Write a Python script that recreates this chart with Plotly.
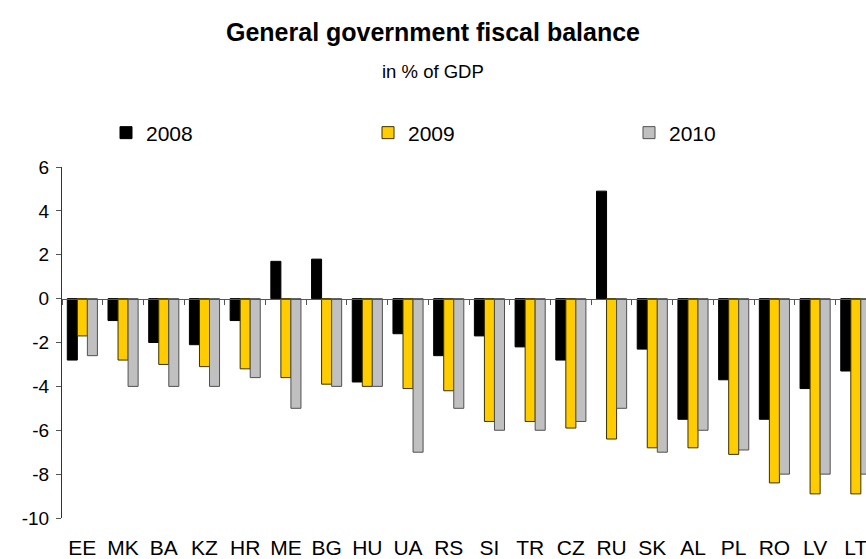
import plotly.graph_objects as go

countries = ["EE", "MK", "BA", "KZ", "HR", "ME", "BG", "HU", "UA", "RS",
             "SI", "TR", "CZ", "RU", "SK", "AL", "PL", "RO", "LV", "LT"]
years = ["2008", "2009", "2010"]
balance_2008 = [-2.8, -1.0, -2.0, -2.1, -1.0, 1.7, 1.8, -3.8, -1.6, -2.6,
                -1.7, -2.2, -2.8, 4.9, -2.3, -5.5, -3.7, -5.5, -4.1, -3.3]
balance_2009 = [-1.7, -2.8, -3.0, -3.1, -3.2, -3.6, -3.9, -4.0, -4.1, -4.2,
                -5.6, -5.6, -5.9, -6.4, -6.8, -6.8, -7.1, -8.4, -8.9, -8.9]
balance_2010 = [-2.6, -4.0, -4.0, -4.0, -3.6, -5.0, -4.0, -4.0, -7.0, -5.0,
                -6.0, -6.0, -5.6, -5.0, -7.0, -6.0, -6.9, -8.0, -8.0, -8.0]
y_ticks = [-10, -8, -6, -4, -2, 0, 2, 4, 6]

series = [
    (years[0], balance_2008, "#000000", "#000000"),
    (years[1], balance_2009, "#FFCC00", "#3a3000"),
    (years[2], balance_2010, "#C0C0C0", "#505050"),
]
# left edge (px) of each legend entry
legend_left = [106, 368, 629]

FONT_REG = "Liberation Sans, Arial, sans-serif"

W, H = 866, 559
M_L, M_R, M_T, M_B = 62, 0, 167, 41
plot_h = H - M_T - M_B

fig = go.Figure()
legend_layout = {}
for i, (name, values, fill, edge) in enumerate(series):
    key = "legend" if i == 0 else f"legend{i + 1}"
    fig.add_trace(go.Bar(
        x=countries, y=values, name=name, legend=key,
        marker=dict(color=fill, line=dict(color=edge, width=1)),
    ))
    legend_layout[key] = dict(
        orientation="h",
        x=legend_left[i] / W, xref="container", xanchor="left",
        y=1 - 133 / H, yref="container", yanchor="middle",
        itemwidth=30,
        font=dict(family=FONT_REG, size=21, color="black"),
        bgcolor="rgba(0,0,0,0)",
    )

y_min, y_max = y_ticks[0], y_ticks[-1]
zero_pos = (0 - y_min) / (y_max - y_min)

fig.update_layout(
    width=W, height=H,
    margin=dict(l=M_L, r=M_R, t=M_T, b=M_B, autoexpand=False),
    paper_bgcolor="white", plot_bgcolor="white",
    barmode="group", bargap=0.26, bargroupgap=0,
    showlegend=True,
    title=dict(
        text="<b>General government fiscal balance</b>",
        font=dict(family=FONT_REG, size=25, color="black"),
        x=0.5, xref="container", xanchor="center",
        y=1 - 32 / H, yref="container", yanchor="middle",
    ),
    xaxis=dict(
        type="category",
        categoryorder="array", categoryarray=countries,
        range=[-0.5, len(countries) - 0.75],
        anchor="free", position=zero_pos,
        showline=True, linecolor="#555555", linewidth=1,
        tickson="boundaries", ticks="outside", ticklen=5, tickcolor="#555555",
        ticklabelstandoff=230,
        tickfont=dict(family=FONT_REG, size=21, color="black"),
        showgrid=False, zeroline=False, automargin=False,
    ),
    yaxis=dict(
        range=[y_min, y_max],
        tickvals=y_ticks,
        ticktext=[str(v) for v in y_ticks],
        ticks="outside", ticklen=5, tickcolor="#555555",
        ticklabelstandoff=3,
        showline=True, linecolor="#333333", linewidth=1,
        tickfont=dict(family=FONT_REG, size=19, color="black"),
        showgrid=False, zeroline=False, automargin=False,
    ),
    annotations=[dict(
        text="in % of GDP",
        x=(433 - M_L) / (W - M_L - M_R), xref="paper",
        y=(H - M_B - 72) / plot_h, yref="paper",
        xanchor="center", yanchor="middle", showarrow=False,
        font=dict(family=FONT_REG, size=18.5, color="black"),
    )],
    **legend_layout,
)

fig.write_html("out.html")
